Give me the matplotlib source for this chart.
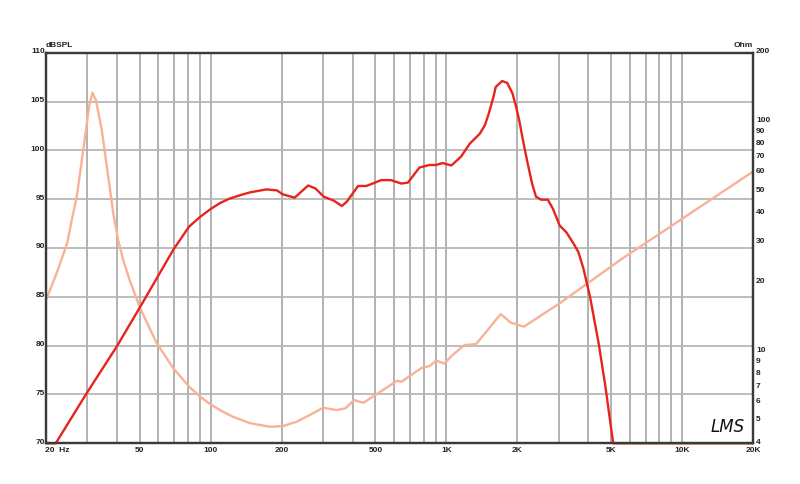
import matplotlib
matplotlib.use("Agg")
import matplotlib.pyplot as plt
from matplotlib.ticker import FixedLocator, NullLocator, LogLocator, NullFormatter
from matplotlib.transforms import ScaledTranslation

# ---- data ----
spl_freq = [20, 22, 29.7, 39.9, 50, 69.3, 81, 90.3, 100, 109.5, 120, 135, 147, 172, 191,
            202, 227, 259, 278, 302, 333, 360, 378, 422, 457, 529, 582, 644, 687,
            769, 848, 904, 964, 1050, 1153, 1258, 1386, 1458, 1514, 1585, 1620, 1725,
            1813, 1906, 1970, 2036, 2126, 2211, 2310, 2400, 2522, 2694, 2834, 3024,
            3231, 3454, 3630, 3815, 4077, 4430, 4730, 5100, 20000]
spl_db = [70, 70, 75.1, 79.9, 83.9, 89.8, 92.2, 93.2, 94.0, 94.6, 95.05, 95.45, 95.7, 96.0, 95.9,
          95.5, 95.15, 96.4, 96.1, 95.25, 94.85, 94.3, 94.75, 96.35, 96.35, 96.95, 96.95,
          96.6, 96.7, 98.25, 98.5, 98.5, 98.7, 98.45, 99.35, 100.7, 101.7, 102.6, 103.8,
          105.5, 106.5, 107.1, 106.9, 105.85, 104.6, 103.1, 100.7, 98.7, 96.6, 95.25, 94.95,
          94.95, 94.0, 92.3, 91.6, 90.5, 89.6, 87.9, 84.9, 80.2, 75.8, 70, 70]

z_freq = [20, 22.2, 24.6, 25.7, 27.0, 27.9, 28.9, 30.6, 31.5, 32.6, 34.5, 36.9, 38.6,
          40.5, 42.5, 45.3, 50, 59, 69.3, 81, 90.3, 99.2, 109.5, 124, 147, 178.6, 202,
          231, 263, 300, 342, 372, 406, 444, 492, 552, 618, 644, 699, 784, 848, 904,
          980, 1062, 1192, 1335, 1519, 1700, 1875, 2133, 2522, 3024, 5470, 20000]
z_ohm = [16.8, 22.0, 29.7, 37.2, 47.3, 60, 78, 120, 134, 124, 92, 56, 40,
         30.6, 25.1, 20.5, 15.6, 10.9, 8.5, 7.05, 6.38, 5.93, 5.58, 5.22, 4.89, 4.72, 4.75,
         4.96, 5.31, 5.71, 5.58, 5.67, 6.17, 6.0, 6.42, 6.94, 7.49, 7.4, 7.85, 8.5, 8.67, 9.15,
         8.9, 9.68, 10.7, 10.8, 12.66, 14.6, 13.4, 12.86, 14.4, 16.25, 25.1, 60.8]

x_ticks = [20, 50, 100, 200, 500, 1000, 2000, 5000, 10000, 20000]
x_labels = ["", "50", "100", "200", "500", "1K", "2K", "5K", "10K", "20K"]
y_ticks = [70, 75, 80, 85, 90, 95, 100, 105, 110]
z_ticks = [4, 5, 6, 7, 8, 9, 10, 20, 30, 40, 50, 60, 70, 80, 90, 100, 200]

# ---- style ----
RED = "#e8231b"
SALMON = "#f8b295"
GRID = "#b2b2b2"
TXT = "#222222"
FONT = dict(family="Liberation Sans", weight="bold", size=6)

fig = plt.figure(figsize=(8, 4.84), dpi=100)
ax = fig.add_axes([46 / 800, (484 - 443.3) / 484, 707 / 800, 390.6 / 484])
ax2 = ax.twinx()

ax.set_xscale("log")
ax.set_xlim(20, 20000)
ax.set_ylim(70, 110)
ax2.set_yscale("log")
ax2.set_ylim(4, 200)

ax.xaxis.set_major_locator(FixedLocator(x_ticks))
ax.set_xticklabels(x_labels)
ax.xaxis.set_minor_locator(LogLocator(base=10, subs=range(2, 10), numticks=20))
ax.xaxis.set_minor_formatter(NullFormatter())
ax.set_yticks(y_ticks)
ax.set_yticklabels([str(v) for v in y_ticks])

ax2.yaxis.set_major_locator(FixedLocator(z_ticks))
ax2.yaxis.set_minor_locator(NullLocator())
ax2.set_yticklabels([str(v) for v in z_ticks])

ax.set_axisbelow(True)
ax.grid(True, which="both", axis="x", color=GRID, lw=1.4)
ax.grid(True, which="major", axis="y", color=GRID, lw=1.2)

for a in (ax, ax2):
    a.tick_params(which="both", length=0)
    for s in a.spines.values():
        s.set_color("#3a3a3a")
        s.set_linewidth(1.6)

ax.tick_params(axis="x", pad=2.5)
ax.tick_params(axis="y", pad=0.8)
ax2.tick_params(axis="y", pad=2.2)
for lab in ax.get_xticklabels() + ax.get_yticklabels() + ax2.get_yticklabels():
    lab.set_fontfamily(FONT["family"])
    lab.set_fontweight(FONT["weight"])
    lab.set_fontsize(FONT["size"])
    lab.set_color(TXT)
up = ScaledTranslation(0, 1.5 / 72, fig.dpi_scale_trans)
for lab in ax.get_yticklabels() + ax2.get_yticklabels():
    lab.set_transform(lab.get_transform() + up)

# curves: impedance drawn first (on right scale), SPL on top
ax.plot(z_freq, z_ohm, color=SALMON, lw=1.7, transform=ax2.transData, zorder=2,
        solid_joinstyle="round", solid_capstyle="round")
ax.plot(spl_freq, spl_db, color=RED, lw=1.7, zorder=3,
        solid_joinstyle="round", solid_capstyle="round", clip_on=False)
ax.set_xlim(20, 20000)
ax.set_ylim(70, 110)

# texts
ax.annotate("20  Hz", xy=(0, 0), xycoords="axes fraction", xytext=(-0.7, -2.5),
            textcoords="offset points", ha="left", va="top", color=TXT, **FONT)
ax.annotate("dBSPL", xy=(0, 1), xycoords="axes fraction", xytext=(0, 2.5),
            textcoords="offset points", ha="left", va="bottom", color=TXT, **FONT)
ax.annotate("Ohm", xy=(1, 1), xycoords="axes fraction", xytext=(0, 2.5),
            textcoords="offset points", ha="right", va="bottom", color=TXT, **FONT)
ax.annotate("LMS", xy=(1, 0), xycoords="axes fraction", xytext=(-6, 5),
            textcoords="offset points", ha="right", va="bottom", color="#111111",
            family="DejaVu Sans", style="italic", weight="light", size=12)

fig.savefig("out.png", dpi=100, facecolor="white")
